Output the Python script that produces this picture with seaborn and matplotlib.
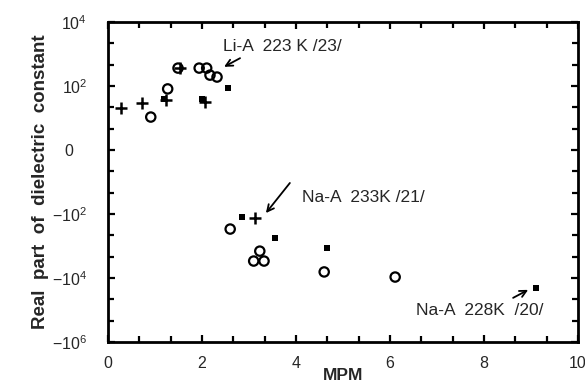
import matplotlib
matplotlib.use("Agg")
import matplotlib.pyplot as plt
import seaborn as sns
import pandas as pd
import numpy as np

sns.set_theme(style="ticks")
plt.rcParams['font.family'] = ['Liberation Sans', 'DejaVu Sans']
plt.rcParams['mathtext.fontset'] = 'custom'
plt.rcParams['mathtext.rm'] = 'Liberation Sans'
plt.rcParams['mathtext.it'] = 'Liberation Sans'

# y values are the signed exponent: sign(eps') * log10(|eps'|)
plus_mpm = [0.28, 0.72, 1.23, 1.53, 2.06, 3.13]
plus_y = [1.31, 1.47, 1.56, 2.56, 1.50, -2.12]

circle_mpm = [0.91, 1.27, 1.49, 1.94, 2.10, 2.17, 2.32, 2.60, 3.23, 3.10, 3.32, 4.60, 6.11]
circle_y = [1.03, 1.91, 2.56, 2.56, 2.56, 2.34, 2.28, -2.47, -3.16, -3.47, -3.47, -3.81, -3.97]

square_mpm = [1.19, 2.00, 2.55, 2.85, 3.55, 4.66, 9.11]
square_y = [1.59, 1.59, 1.94, -2.09, -2.75, -3.06, -4.31]

ytick_pos = [4, 2, 0, -2, -4, -6]
ytick_labels = [r'$10^4$', r'$10^2$', '0\u00a0\u00a0\u00a0', r'$-10^2$', r'$-10^4$', r'$-10^6$']
xtick_pos = [0, 2, 4, 6, 8, 10]
xtick_labels = ['0', '2', '4', '6', '8', '10']

df_plus = pd.DataFrame({'MPM': plus_mpm, 'y': plus_y})
df_circ = pd.DataFrame({'MPM': circle_mpm, 'y': circle_y})
df_sq = pd.DataFrame({'MPM': square_mpm, 'y': square_y})

fig = plt.figure(figsize=(5.85, 3.89), dpi=100)
ax = fig.add_axes([0.1846, 0.1208, 0.988 - 0.1846, 0.9434 - 0.1208])

sns.scatterplot(data=df_circ, x='MPM', y='y', ax=ax, marker='o', s=45,
                facecolor='none', edgecolor='black', linewidth=1.6, zorder=3)
sns.scatterplot(data=df_sq, x='MPM', y='y', ax=ax, marker='s', s=22,
                color='black', edgecolor='black', linewidth=0, zorder=4)
sns.scatterplot(data=df_plus, x='MPM', y='y', ax=ax, marker='+', s=70,
                color='black', linewidth=1.8, zorder=5)

ax.set_xlim(0, 10)
ax.set_ylim(-6, 4)
ax.set_xticks(xtick_pos)
ax.set_xticklabels(xtick_labels)
ax.set_yticks(ytick_pos)
ax.set_yticklabels(ytick_labels)
ax.set_xticks(np.arange(0, 10.01, 2 / 3), minor=True)
ax.set_yticks(np.arange(-6, 4.01, 2 / 3), minor=True)

ax.tick_params(which='both', direction='in', top=True, right=True,
               color='black', width=1.6)
ax.tick_params(which='major', length=5)
ax.tick_params(which='minor', length=4)
ax.tick_params(axis='y', which='major', labelsize=11.5, pad=15)
ax.tick_params(axis='x', which='major', labelsize=11.5, pad=10)
for s in ax.spines.values():
    s.set_linewidth(2)
    s.set_color('black')

ax.set_xlabel('MPM', fontsize=12.5, fontweight='bold', labelpad=-2)
ax.set_ylabel('Real  part  of  dielectric  constant', fontsize=13.5,
              fontweight='bold', labelpad=2)

arrow = dict(arrowstyle='->', color='black', lw=1.3, shrinkA=0, shrinkB=0)
ax.annotate('', xy=(2.47, 2.6), xytext=(2.81, 2.87), arrowprops=arrow)
ax.text(2.45, 3.22, 'Li-A  223 K /23/', fontsize=12.5, va='center', ha='left')
ax.annotate('', xy=(3.36, -1.97), xytext=(3.87, -1.03), arrowprops=arrow)
ax.text(4.13, -1.47, 'Na-A  233K /21/', fontsize=12.5, va='center', ha='left')
ax.annotate('', xy=(8.94, -4.37), xytext=(8.62, -4.62), arrowprops=arrow)
ax.text(6.55, -5.03, 'Na-A  228K  /20/', fontsize=12.5, va='center', ha='left')

fig.savefig('out.png', dpi=100)
